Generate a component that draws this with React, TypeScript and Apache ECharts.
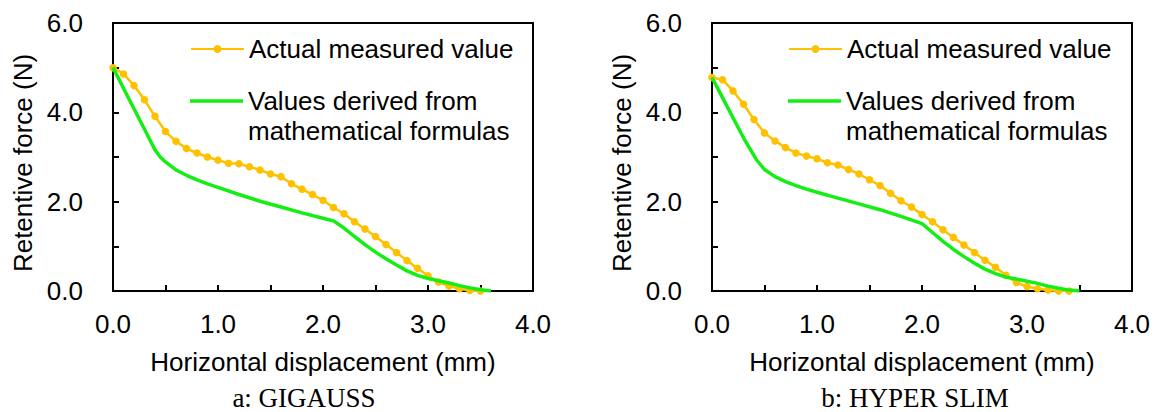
import React, { useEffect, useRef } from "react";
import * as echarts from "echarts";

const FONT = "'Liberation Sans', Arial, sans-serif";
const SERIF = "'Liberation Serif', 'Times New Roman', serif";

const SERIES_MEASURED = "Actual measured value";
const SERIES_FORMULA = "Values derived from mathematical formulas";

const X_AXIS_TITLE = "Horizontal displacement (mm)";
const Y_AXIS_TITLE = "Retentive force (N)";
const CAPTIONS = ["a: GIGAUSS", "b: HYPER SLIM"];

// a: GIGAUSS
const gigaussMeasuredX = [0, 0.1, 0.2, 0.3, 0.4, 0.5, 0.6, 0.7, 0.8, 0.9, 1.0, 1.1, 1.2, 1.3, 1.4, 1.5, 1.6, 1.7, 1.8, 1.9, 2.0, 2.1, 2.2, 2.3, 2.4, 2.5, 2.6, 2.7, 2.8, 2.9, 3.0, 3.1, 3.2, 3.3, 3.4, 3.5];
const gigaussMeasuredY = [5.0, 4.86, 4.6, 4.28, 3.91, 3.57, 3.35, 3.19, 3.09, 3.0, 2.93, 2.86, 2.85, 2.78, 2.71, 2.62, 2.56, 2.4, 2.28, 2.16, 2.03, 1.87, 1.73, 1.55, 1.39, 1.22, 1.04, 0.86, 0.68, 0.51, 0.34, 0.2, 0.11, 0.05, 0.01, 0.0];
const gigaussFormulaX = [0, 0.1, 0.2, 0.3, 0.4, 0.45, 0.5, 0.6, 0.7, 0.8, 0.9, 1.0, 1.2, 1.4, 1.6, 1.8, 2.0, 2.1, 2.2, 2.3, 2.4, 2.5, 2.6, 2.7, 2.8, 2.9, 3.0, 3.1, 3.2, 3.3, 3.4, 3.5, 3.6];
const gigaussFormulaY = [5.0, 4.54, 4.08, 3.62, 3.16, 3.0, 2.89, 2.71, 2.59, 2.49, 2.4, 2.32, 2.16, 2.01, 1.88, 1.75, 1.63, 1.57, 1.41, 1.22, 1.04, 0.87, 0.72, 0.58, 0.45, 0.35, 0.28, 0.23, 0.18, 0.12, 0.07, 0.03, 0.0];

// b: HYPER SLIM
const slimMeasuredX = [0, 0.1, 0.2, 0.3, 0.4, 0.5, 0.6, 0.7, 0.8, 0.9, 1.0, 1.1, 1.2, 1.3, 1.4, 1.5, 1.6, 1.7, 1.8, 1.9, 2.0, 2.1, 2.2, 2.3, 2.4, 2.5, 2.6, 2.7, 2.8, 2.9, 3.0, 3.1, 3.2, 3.3, 3.4];
const slimMeasuredY = [4.78, 4.73, 4.48, 4.18, 3.84, 3.54, 3.36, 3.21, 3.09, 3.02, 2.96, 2.87, 2.82, 2.72, 2.62, 2.49, 2.36, 2.19, 2.02, 1.88, 1.71, 1.55, 1.37, 1.2, 1.03, 0.86, 0.69, 0.53, 0.35, 0.19, 0.1, 0.05, 0.02, 0.0, 0.0];
const slimFormulaX = [0, 0.1, 0.2, 0.3, 0.42, 0.5, 0.6, 0.7, 0.8, 0.9, 1.0, 1.2, 1.4, 1.6, 1.8, 2.0, 2.1, 2.2, 2.3, 2.4, 2.5, 2.6, 2.7, 2.8, 2.87, 3.0, 3.1, 3.2, 3.3, 3.4, 3.5];
const slimFormulaY = [4.78, 4.33, 3.88, 3.43, 2.95, 2.72, 2.56, 2.45, 2.36, 2.28, 2.21, 2.08, 1.95, 1.82, 1.67, 1.51, 1.31, 1.11, 0.93, 0.77, 0.62, 0.49, 0.39, 0.31, 0.28, 0.22, 0.17, 0.11, 0.06, 0.02, 0.0];

const ORANGE = "#FFC000";
const GREEN = "#14EE14";

const zip = (xs: number[], ys: number[]) => xs.map((x, i) => [x, ys[i]]);

export default function App() {
  const ref = useRef<HTMLDivElement>(null);

  useEffect(() => {
    if (!ref.current) return;
    const chart = echarts.init(ref.current, null, { renderer: "svg" });

    const grids = [
      { left: 113, top: 23, width: 420, height: 268 },
      { left: 712, top: 23, width: 420, height: 268 },
    ];

    const axisLineStyle = { color: "#000", width: 2 };

    const xAxes = grids.map((_, i) => ({
      type: "value",
      gridIndex: i,
      min: 0,
      max: 4,
      interval: 0.5,
      axisLine: { show: true, onZero: false, lineStyle: axisLineStyle },
      axisTick: { show: true, inside: true, length: 6, lineStyle: axisLineStyle },
      splitLine: { show: false },
      axisLabel: {
        margin: 20,
        fontSize: 26,
        color: "#000",
        fontFamily: FONT,
        formatter: (v: number) => (Math.abs(v - Math.round(v)) < 1e-6 ? v.toFixed(1) : ""),
      },
      name: X_AXIS_TITLE,
      nameLocation: "middle",
      nameGap: 58,
      nameTextStyle: { fontSize: 26, color: "#000", fontFamily: FONT },
    }));

    const yAxes = grids.map((_, i) => ({
      type: "value",
      gridIndex: i,
      min: 0,
      max: 6,
      interval: 1,
      axisLine: { show: true, onZero: false, lineStyle: axisLineStyle },
      axisTick: { show: true, inside: true, length: 6, lineStyle: axisLineStyle },
      splitLine: { show: false },
      axisLabel: {
        margin: 30,
        fontSize: 26,
        color: "#000",
        fontFamily: FONT,
        formatter: (v: number) => (Math.round(v) % 2 === 0 ? v.toFixed(1) : ""),
      },
      name: Y_AXIS_TITLE,
      nameLocation: "middle",
      nameGap: 77,
      nameTextStyle: { fontSize: 26, color: "#000", fontFamily: FONT, padding: [0, 12, 0, 0] },
    }));

    const measured = (i: number, data: number[][]) => ({
      name: SERIES_MEASURED,
      type: "line",
      xAxisIndex: i,
      yAxisIndex: i,
      data,
      symbol: "circle",
      symbolSize: 7.5,
      showSymbol: true,
      lineStyle: { color: ORANGE, width: 2.5 },
      itemStyle: { color: ORANGE },
      z: 2,
    });
    const formula = (i: number, data: number[][]) => ({
      name: SERIES_FORMULA,
      type: "line",
      xAxisIndex: i,
      yAxisIndex: i,
      data,
      symbol: "none",
      lineStyle: { color: GREEN, width: 3.5 },
      itemStyle: { color: GREEN },
      z: 3,
    });

    const legendText = { fontSize: 26, color: "#000", fontFamily: FONT, lineHeight: 30 };
    const legends: any[] = [];
    [185, 783].forEach((lx) => {
      legends.push({
        left: lx,
        top: 29,
        orient: "vertical",
        itemWidth: 53,
        itemHeight: 10,
        selectedMode: false,
        data: [SERIES_MEASURED],
        textStyle: legendText,
      });
      legends.push({
        left: lx,
        top: 51,
        orient: "vertical",
        itemWidth: 53,
        itemHeight: 3.5,
        selectedMode: false,
        data: [{ name: SERIES_FORMULA, icon: "rect", itemStyle: { color: GREEN, borderWidth: 0 } }],
        formatter: () => "\nValues derived from\nmathematical formulas",
        textStyle: legendText,
      });
    });

    chart.setOption({
      animation: false,
      textStyle: { fontFamily: FONT },
      grid: grids.map((g) => ({ ...g, show: true, borderColor: "#000", borderWidth: 2, backgroundColor: "transparent" })),
      xAxis: xAxes,
      yAxis: yAxes,
      legend: legends,
      series: [
        measured(0, zip(gigaussMeasuredX, gigaussMeasuredY)),
        formula(0, zip(gigaussFormulaX, gigaussFormulaY)),
        measured(1, zip(slimMeasuredX, slimMeasuredY)),
        formula(1, zip(slimFormulaX, slimFormulaY)),
      ],
      graphic: [
        {
          type: "text",
          x: 304,
          y: 398,
          style: { text: CAPTIONS[0], font: `27px ${SERIF}`, fill: "#000", textAlign: "center", textVerticalAlign: "middle" },
        },
        {
          type: "text",
          x: 915,
          y: 398,
          style: { text: CAPTIONS[1], font: `27px ${SERIF}`, fill: "#000", textAlign: "center", textVerticalAlign: "middle" },
        },
      ],
    });

    return () => chart.dispose();
  }, []);

  return (
    <div
      ref={ref}
      style={{ position: "fixed", left: 0, top: 0, width: 1160, height: 412, background: "#fff" }}
    />
  );
}
